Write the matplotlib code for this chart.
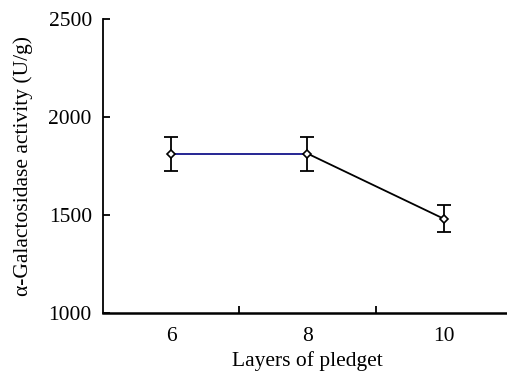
"""Alpha-galactosidase activity against the number of pledget layers."""

import matplotlib

matplotlib.use("Agg")
import matplotlib.pyplot as plt
import numpy as np

layers = ["6", "8", "10"]
activity = [1813, 1813, 1480]
activity_err = [87, 87, 68]

plt.rcParams["font.family"] = ["Liberation Serif", "DejaVu Serif"]
FONT_SIZE = 15.5


def build_figure():
    fig = plt.figure(figsize=(5.07, 3.72), dpi=100)
    ax = fig.add_axes([0.203, 0.159, 0.807, 0.790])
    x = np.arange(1, len(layers) + 1)

    # first span drawn in navy, the rest in black
    ax.plot(x[:2], activity[:2], color="#14148a", lw=1.3, zorder=2)
    ax.plot(x[1:], activity[1:], color="black", lw=1.3, zorder=2)
    ax.errorbar(x, activity, yerr=activity_err, fmt="none", ecolor="black",
                elinewidth=1.3, capsize=5, capthick=1.3, zorder=3)
    ax.plot(x, activity, ls="none", marker="D", ms=4.5, mfc="white",
            mec="black", mew=1.2, zorder=4)

    ax.set_xlim(0.5, len(layers) + 0.5)
    ax.set_ylim(1000, 2500)
    ax.set_yticks([1000, 1500, 2000, 2500])

    # category labels centred, tick marks between categories
    ax.set_xticks(x)
    ax.set_xticklabels(layers)
    ax.set_xticks(np.arange(1.5, len(layers) + 0.5, 1.0), minor=True)
    ax.tick_params(axis="x", which="major", length=0, pad=10,
                   labelsize=FONT_SIZE)
    ax.tick_params(axis="x", which="minor", direction="in", length=5, width=1.3)
    ax.tick_params(axis="y", direction="in", length=5, width=1.3,
                   labelsize=FONT_SIZE, pad=8)

    for side in ("top", "right"):
        ax.spines[side].set_visible(False)
    ax.spines["left"].set_linewidth(1.3)
    ax.spines["bottom"].set_linewidth(1.8)

    ax.set_xlabel("Layers of pledget", fontsize=FONT_SIZE, labelpad=4)
    ax.set_ylabel("\u03b1-Galactosidase activity (U/g)", fontsize=FONT_SIZE,
                  labelpad=11)
    return fig


def main():
    fig = build_figure()
    fig.savefig("out.png", dpi=100)


if __name__ == "__main__":
    main()
